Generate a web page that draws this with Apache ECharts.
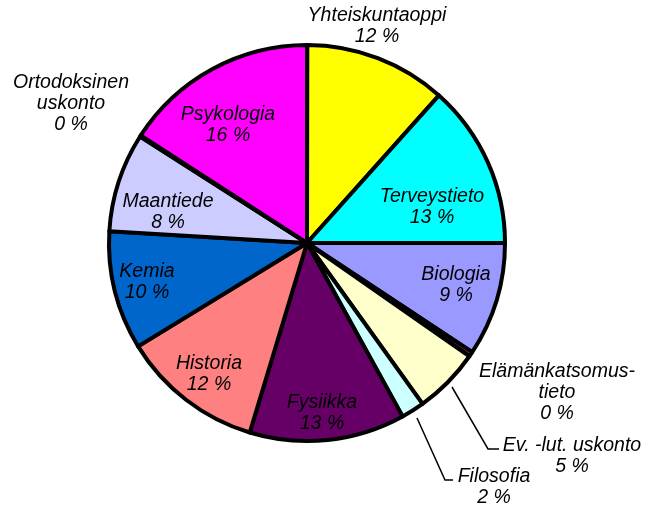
<!DOCTYPE html>
<html>
<head>
<meta charset="utf-8">
<script src="https://cdn.jsdelivr.net/npm/echarts@6/dist/echarts.min.js"></script>
<style>
  html, body { margin: 0; padding: 0; background: #fff; }
  #chart { width: 648px; height: 510px; }
</style>
</head>
<body>
<div id="chart"></div>
<script>
// subjects in alphabetical order, first slice starts at 3 o'clock
var subjects = ['Biologia', 'Elämänkatsomus-\ntieto', 'Ev. -lut. uskonto', 'Filosofia', 'Fysiikka', 'Historia',
  'Kemia', 'Maantiede', 'Ortodoksinen\nuskonto', 'Psykologia', 'Yhteiskuntaoppi', 'Terveystieto'];
var shares = [9.3, 0.4, 5.4, 1.9, 12.7, 11.6, 9.7, 8.1, 0.1, 15.9, 11.6, 13.4];
var colors = ['#9999FF', '#993366', '#FFFFCC', '#CCFFFF', '#660066', '#FF8080',
  '#0066CC', '#CCCCFF', '#000080', '#FF00FF', '#FFFF00', '#00FFFF'];

// label anchor (centre of text block) per slice
var labelPos = [[456, 285], [557, 393], [572, 456], [494, 487], [322, 413], [209, 374],
  [147, 282], [168, 212], [71, 104], [228, 125], [377, 26], [432, 207]];
// leader lines only where the original has them
var leaders = {
  2: [[452, 387], [488, 449], [499, 449]],
  3: [[417, 418], [445, 480], [453, 480]]
};

var chart = echarts.init(document.getElementById('chart'));

var data = subjects.map(function (name, i) {
  return {
    name: name,
    value: shares[i],
    itemStyle: { color: colors[i] },
    labelLine: { show: !!leaders[i] }
  };
});

chart.setOption({
  animation: false,
  series: [{
    type: 'pie',
    center: [307, 243],
    radius: 198,
    startAngle: 0,
    clockwise: true,
    avoidLabelOverlap: false,
    data: data,
    itemStyle: { borderColor: '#000', borderWidth: 4 },
    label: {
      show: true,
      position: 'outside',
      formatter: function (p) { return p.name + '\n' + Math.round(p.value) + ' %'; },
      color: '#000',
      fontFamily: 'Liberation Sans, Arial, sans-serif',
      fontStyle: 'italic',
      fontSize: 19.5,
      lineHeight: 21,
      align: 'center'
    },
    labelLine: { lineStyle: { color: '#000', width: 1.5 } },
    labelLayout: function (p) {
      var i = p.dataIndex;
      var out = {
        x: labelPos[i][0],
        y: labelPos[i][1],
        align: 'center',
        verticalAlign: 'middle'
      };
      if (leaders[i]) out.labelLinePoints = leaders[i];
      return out;
    }
  }]
});
</script>
</body>
</html>
